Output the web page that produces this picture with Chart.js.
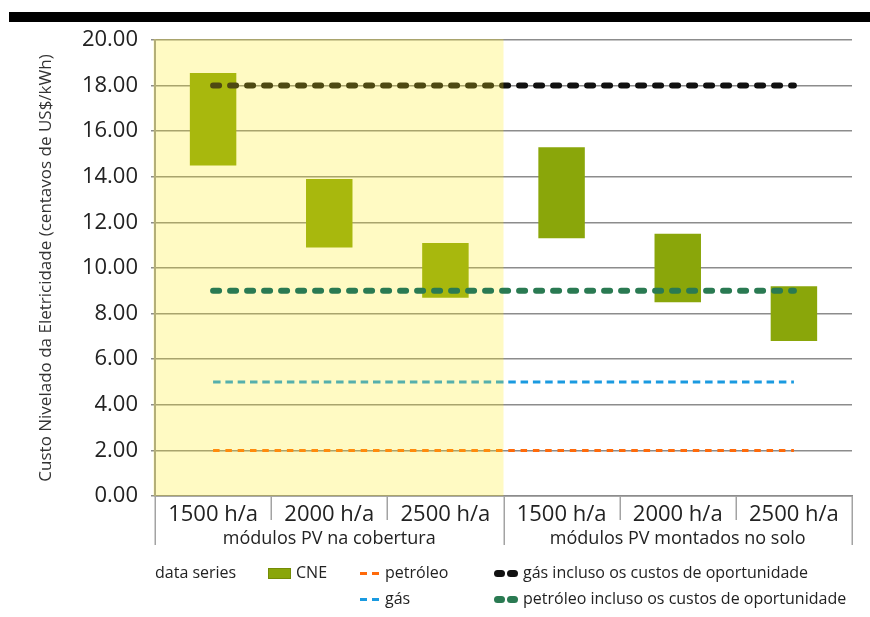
<!DOCTYPE html>
<html>
<head>
<meta charset="utf-8">
<script src="https://cdn.jsdelivr.net/npm/chart.js@4.4.1/dist/chart.umd.min.js"></script>
<style>
  html, body { margin: 0; padding: 0; background: #fff; }
  #wrap { position: relative; width: 870px; height: 617px; overflow: hidden; }
  #topbar { position: absolute; left: 9px; top: 12px; width: 861px; height: 10px; background: #000; }
  #chart { position: absolute; left: 0; top: 0; }
  .lg { position: absolute; font-family: 'Open Sans', sans-serif; font-size: 16px; color: #222;
        line-height: 18px; white-space: nowrap; }
  .sw { position: absolute; }
</style>
</head>
<body>
<div id="wrap">
  <div id="topbar"></div>
  <canvas id="chart" width="870" height="617"></canvas>
  <div id="legend"></div>
</div>
<script>
// Categories and groups along the x axis
const categories = ['1500 h/a', '2000 h/a', '2500 h/a', '1500 h/a', '2000 h/a', '2500 h/a'];
const groups = ['módulos PV na cobertura', 'módulos PV montados no solo'];

// CNE range (low / high) per category, in US cents per kWh
const cneLow  = [14.5, 10.9, 8.7, 11.3, 8.5, 6.8];
const cneHigh = [18.55, 13.9, 11.1, 15.3, 11.5, 9.2];

// Reference fuel costs
const petroleo      = [2, 2, 2, 2, 2, 2];
const gas           = [5, 5, 5, 5, 5, 5];
const gasOport      = [18, 18, 18, 18, 18, 18];
const petroleoOport = [9, 9, 9, 9, 9, 9];

// Y axis range
const yMin = 0, yMax = 20, yStep = 2;

const COL_CNE = '#8aa60a';
const COL_PET = '#ff6a0a';
const COL_GAS = '#1a9ae0';
const COL_GAS_OP = '#111111';
const COL_PET_OP = '#2a7a52';

const FONT = "'Open Sans', sans-serif";

// Translucent yellow band over the rooftop group, laid over the
// bars and thin lines (drawn right after the dataset at index 3)
const rooftopBand = {
  id: 'rooftopBand',
  afterDatasetDraw(chart, args) {
    if (args.index !== 3) return;
    const { ctx, chartArea: a, scales: { x } } = chart;
    const split = (x.getPixelForValue(2) + x.getPixelForValue(3)) / 2;
    ctx.save();
    ctx.fillStyle = 'rgba(255,237,25,0.26)';
    ctx.fillRect(a.left - 1.5, a.top - 1, split - a.left + 1.5, a.bottom - a.top + 1);
    ctx.restore();
  }
};

// Category and group separators below the x axis
const separators = {
  id: 'separators',
  afterDraw(chart) {
    const { ctx, chartArea: a } = chart;
    const n = categories.length;
    const w = (a.right - a.left) / n;
    ctx.save();
    ctx.strokeStyle = '#a3a3a3';
    ctx.lineWidth = 1.5;
    for (let i = 0; i <= n; i++) {
      const px = Math.round(a.left + i * w) + 0.25;
      const outer = (i % 3 === 0);
      ctx.beginPath();
      ctx.moveTo(px, a.bottom);
      ctx.lineTo(px, a.bottom + (outer ? 49 : 24));
      ctx.stroke();
    }
    ctx.restore();
  }
};

const lineDs = (label, data, color, width, dash, cap, order) => ({
  type: 'line',
  label,
  data,
  borderColor: color,
  backgroundColor: color,
  borderWidth: width,
  borderDash: dash,
  borderCapStyle: cap,
  pointRadius: 0,
  fill: false,
  order
});

const chart = new Chart(document.getElementById('chart'), {
  data: {
    labels: categories,
    datasets: [
      {
        type: 'bar',
        label: 'CNE',
        data: cneLow.map((v, i) => [v, cneHigh[i]]),
        backgroundColor: COL_CNE,
        borderWidth: 0,
        barPercentage: 0.4,
        categoryPercentage: 1.0,
        order: 10
      },
      lineDs('petróleo', petroleo, COL_PET, 3, [6.5, 5.8], 'butt', 5),
      lineDs('gás', gas, COL_GAS, 3, [7.5, 4.8], 'butt', 4),
      lineDs('gás incluso os custos de oportunidade', gasOport, COL_GAS_OP, 6, [6, 11], 'round', 3),
      lineDs('petróleo incluso os custos de oportunidade', petroleoOport, COL_PET_OP, 6, [6, 11], 'round', 0)
    ]
  },
  options: {
    responsive: false,
    animation: false,
    layout: { padding: { left: 36, right: 18, top: 40, bottom: 70 } },
    plugins: { legend: { display: false }, tooltip: { enabled: false } },
    scales: {
      x: {
        type: 'category',
        offset: true,
        grid: { display: false },
        border: { display: true, color: '#8c8c8c', width: 1.5 },
        ticks: { color: '#222', font: { family: FONT, size: 22 }, padding: -2, maxRotation: 0, autoSkip: false },
        afterFit(s) { s.height = 26; }
      },
      x2: {
        type: 'category',
        position: 'bottom',
        labels: groups,
        offset: true,
        grid: { display: false },
        border: { display: false },
        ticks: { color: '#222', font: { family: FONT, size: 18 }, padding: -2, maxRotation: 0, autoSkip: false },
        afterFit(s) { s.height = 25; }
      },
      y: {
        min: yMin,
        max: yMax,
        ticks: {
          stepSize: yStep,
          color: '#222',
          font: { family: FONT, size: 22 },
          padding: 13,
          callback: v => Number(v).toFixed(2)
        },
        grid: { color: '#8c8c8c', lineWidth: 1.5, tickLength: 4 },
        border: { color: '#9a9a9a', width: 2 },
        title: {
          display: true,
          text: 'Custo Nivelado da Eletricidade (centavos de US$/kWh)',
          color: '#333',
          font: { family: FONT, size: 17 },
          padding: { top: 0, bottom: 0 }
        },
        afterFit(s) { s.width = 119; }
      }
    }
  },
  plugins: [rooftopBand, separators]
});

// Legend below the chart, built from the datasets
(function buildLegend() {
  const ds = chart.data.datasets;
  const el = document.getElementById('legend');
  const add = (html) => el.insertAdjacentHTML('beforeend', html);
  const text = (x, y, t) => add(`<div class="lg" style="left:${x}px;top:${y}px">${t}</div>`);
  const rowY = [563, 589];

  text(155, rowY[0], 'data series');

  // CNE swatch
  add(`<div class="sw" style="left:268px;top:${rowY[0] + 5}px;width:21px;height:9px;background:${ds[0].backgroundColor};border:1px solid #748c06"></div>`);
  text(296, rowY[0], ds[0].label);

  // thin dashed swatches
  const dashSw = (x, y, c) => {
    add(`<div class="sw" style="left:${x}px;top:${y + 9}px;width:7px;height:3px;background:${c}"></div>`);
    add(`<div class="sw" style="left:${x + 12}px;top:${y + 9}px;width:7px;height:3px;background:${c}"></div>`);
  };
  // thick rounded swatches
  const capSw = (x, y, c) => {
    add(`<div class="sw" style="left:${x}px;top:${y + 7}px;width:11px;height:7px;border-radius:3.5px;background:${c}"></div>`);
    add(`<div class="sw" style="left:${x + 13}px;top:${y + 7}px;width:11px;height:7px;border-radius:3.5px;background:${c}"></div>`);
  };

  dashSw(360, rowY[0], ds[1].borderColor);
  text(385, rowY[0], ds[1].label);
  dashSw(360, rowY[1], ds[2].borderColor);
  text(385, rowY[1], ds[2].label);

  capSw(494, rowY[0], ds[3].borderColor);
  text(523, rowY[0], ds[3].label);
  capSw(494, rowY[1], ds[4].borderColor);
  text(523, rowY[1], ds[4].label);
})();
</script>
</body>
</html>
